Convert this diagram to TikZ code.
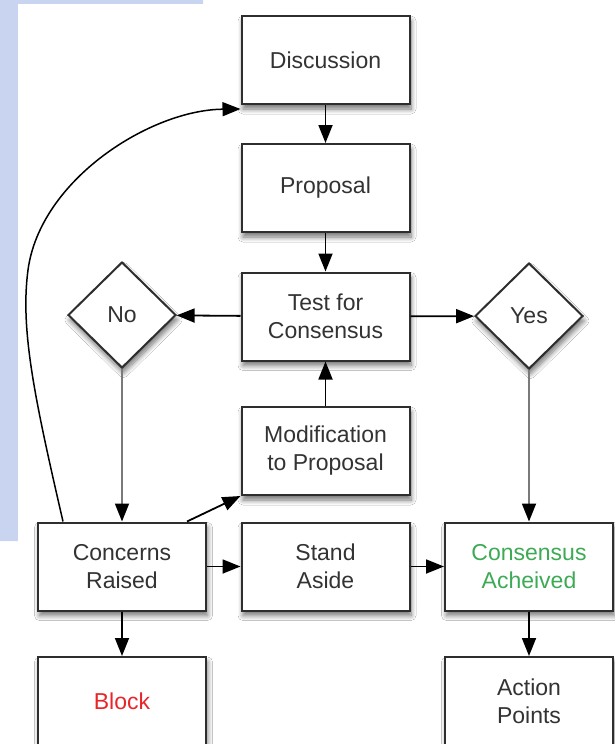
\documentclass[tikz,border=0pt]{standalone}
\usepackage{fontspec}
\setmainfont{Liberation Sans}
\usetikzlibrary{shapes.geometric,shadows,shadows.blur,arrows.meta}
\definecolor{edgec}{HTML}{2E2E2E}
\definecolor{textc}{HTML}{333333}
\definecolor{greyline}{HTML}{7A7A7A}
\definecolor{redtxt}{HTML}{E8262A}
\definecolor{greentxt}{HTML}{3DAA55}
\definecolor{texture}{HTML}{C9D5F0}
\tikzset{
  shade box/.style={blur shadow={shadow blur steps=8, shadow xshift=1.5pt, shadow yshift=-5pt, shadow blur radius=5pt, shadow opacity=55}},
  flowbox/.style={draw=edgec, line width=2pt, fill=white, rectangle,
    minimum width=168pt, minimum height=88pt, inner sep=0pt, align=center,
    font=\fontsize{23}{28}\selectfont, text=textc, shade box},
  decision/.style={draw=edgec, line width=2pt, fill=white, diamond,
    minimum width=108pt, minimum height=106pt, inner sep=0pt, align=center,
    font=\fontsize{23}{28}\selectfont, text=textc, shade box},
  flowarrow/.style={draw=black, line width=1.8pt, -{Triangle[length=18pt,width=14pt]}},
  greyarrow/.style={draw=greyline, line width=1.8pt, -{Triangle[length=18pt,width=14pt,fill=black,color=black]}},
}
\begin{document}
\begin{tikzpicture}[x=1pt,y=-1pt]
\useasboundingbox (0,0) rectangle (615,744);
\clip (0,0) rectangle (615,744);
% textured background strip
\fill[texture] (0,0) -- (203,0) -- (203,4) -- (18,4) -- (18,541) -- (0,541) -- cycle;
\fill[white] (18,4) rectangle (615,744);

% boxes
\node[flowbox] (disc) at (325.5,60) {Discussion};
\node[flowbox] (prop) at (325.5,188) {Proposal};
\node[flowbox] (test) at (325.5,316.5) {Test for\\Consensus};
\node[flowbox] (mod)  at (325.5,451) {Modification\\to Proposal};
\node[flowbox] (conc) at (122,566.5) {Concerns\\Raised};
\node[flowbox] (stand) at (325.5,566.5) {Stand\\Aside};
\node[flowbox, text=greentxt] (cons) at (529,566.5) {Consensus\\Acheived};
\node[flowbox, text=redtxt] (block) at (122,701) {Block};
\node[flowbox] (act) at (529,701) {Action\\Points};
\node[decision] (no) at (122,315) {No};
\node[decision] (yes) at (529,316) {Yes};

% connectors
\draw[flowarrow] (disc) -- (prop);
\draw[flowarrow] (prop) -- (test);
\draw[flowarrow] (mod) -- (test);
\draw[flowarrow] (test) -- (no);
\draw[flowarrow] (test) -- (yes);
\draw[greyarrow] (no) -- (conc);
\draw[greyarrow] (yes) -- (cons);
\draw[flowarrow] (conc) -- (stand);
\draw[flowarrow] (stand) -- (cons);
\draw[flowarrow] (conc) -- (block);
\draw[flowarrow] (cons) -- (act);
\draw[flowarrow] ([xshift=65pt]conc.north) -- (mod.south west);
\draw[flowarrow, line width=1.5pt] ([xshift=-59pt]conc.north) .. controls (35,400) and (20,330) .. (28,270)
   .. controls (40,180) and (150,110) .. ([yshift=-4pt]disc.south west);
\end{tikzpicture}
\end{document}
